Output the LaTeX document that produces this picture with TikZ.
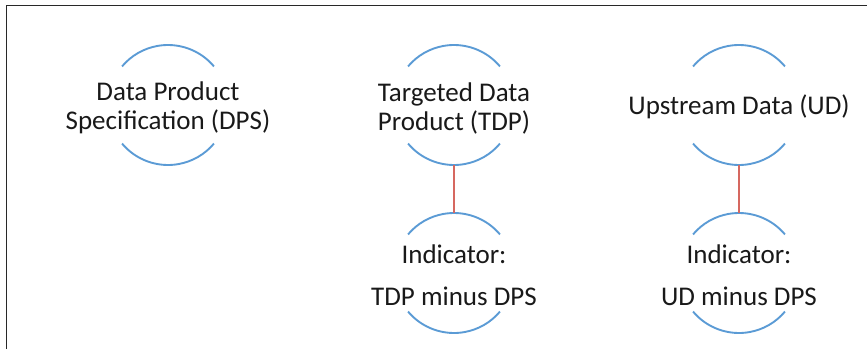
\documentclass[tikz,border=0pt]{standalone}
\usepackage{fontspec}
\setmainfont{Carlito}
\usepackage{xcolor}
\usepackage{tikz}
\usetikzlibrary{positioning,calc}

\definecolor{arcblue}{RGB}{91,155,213}
\definecolor{linkred}{RGB}{214,104,96}
\definecolor{framegray}{RGB}{40,40,40}

\begin{document}
\begin{tikzpicture}[x=1pt,y=1pt,
		label/.style={align=center, inner sep=0pt, font=\fontsize{27}{29}\selectfont, text=black!90},
		arcline/.style={draw=arcblue, line width=1.9pt},
		link/.style={draw=linkred, line width=1.4pt}]
		\useasboundingbox (0,0) rectangle (867,349);

		% frame
		\draw[framegray, line width=1.5pt] (6.5,0) -- (6.5,343.5) -- (867,343.5);

		% bubbles
		\coordinate (dpsc) at (168,244);
		\coordinate (tdpc) at (454,244);
		\coordinate (udc) at (739,244);
		\coordinate (tdpic) at (454,76);
		\coordinate (udic) at (739,76);

		\node[label] (dps) at ([yshift=-3]dpsc) {Data Product\\Specification (DPS)};
		\node[label] (tdp) at ([yshift=-3]tdpc) {Targeted Data\\Product (TDP)};
		\node[label] (ud) at ([yshift=-2]udc) {Upstream Data (UD)};
		\node[label] (tdpi) at ([yshift=-2]tdpic) {Indicator:\\[13pt]TDP minus DPS};
		\node[label] (udi) at ([yshift=-2]udic) {Indicator:\\[13pt]UD minus DPS};

		\foreach \n in {dpsc,tdpc,udc,tdpic,udic} {
			\draw[arcline] ([shift={(40:60)}]\n) arc[start angle=40, end angle=140, radius=60];
			\draw[arcline] ([shift={(220:60)}]\n) arc[start angle=220, end angle=320, radius=60];
		}

		% links
		\draw[link] ([yshift=-60]tdpc) -- ([yshift=60]tdpic);
		\draw[link] ([yshift=-60]udc) -- ([yshift=60]udic);
	\end{tikzpicture}
\end{document}
